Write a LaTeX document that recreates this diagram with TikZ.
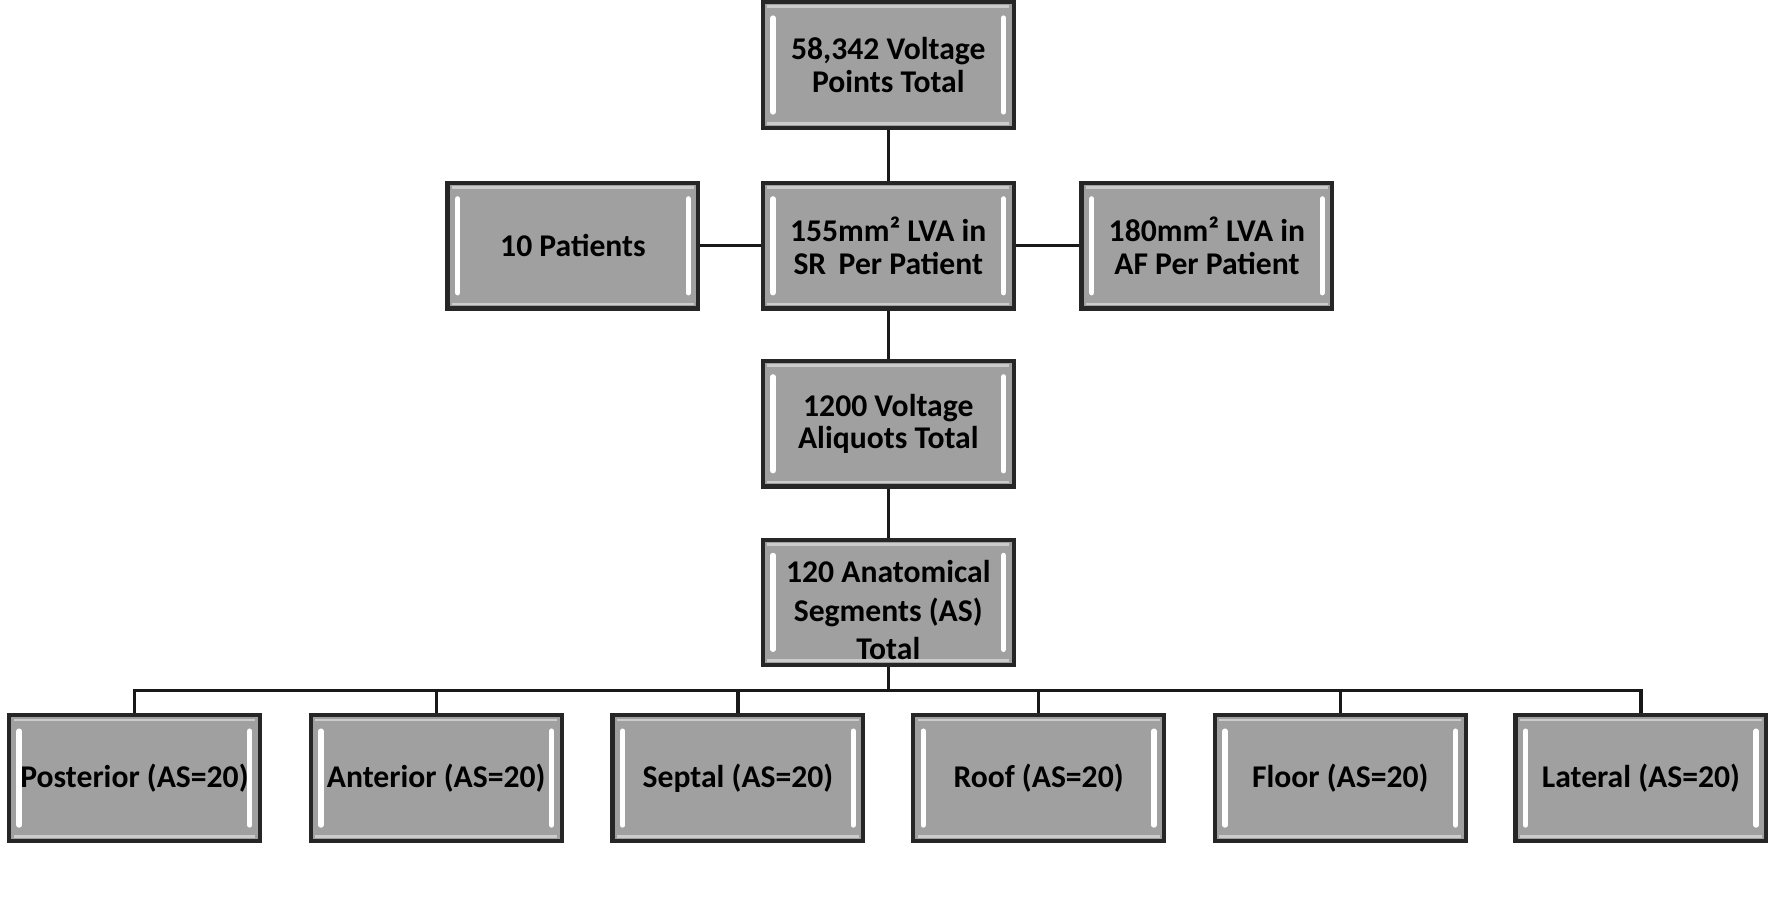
\documentclass[tikz,border=0pt]{standalone}
\usepackage{fontspec}
\setmainfont{Carlito}
\begin{document}
\begin{tikzpicture}[x=0.5pt,y=-0.5pt,
  box/.style={draw=black!85,line width=1.8pt,fill=boxgray,
    minimum width=111pt,minimum height=55.5pt,inner sep=0pt,
    font=\fontsize{14}{14.5}\selectfont\bfseries,align=center,text=black,
    path picture={
      \draw[line width=1.2pt,draw=black!20]
        ([xshift=2pt,yshift=-2pt]path picture bounding box.north west) --
        ([xshift=-2pt,yshift=-2pt]path picture bounding box.north east);
      \draw[line width=1.2pt,draw=black!20]
        ([xshift=2pt,yshift=2pt]path picture bounding box.south west) --
        ([xshift=-2pt,yshift=2pt]path picture bounding box.south east);
      \draw[line width=2.4pt,white,line cap=round]
        ([xshift=4.5pt,yshift=-7pt]path picture bounding box.north west) --
        ([xshift=4.5pt,yshift=7pt]path picture bounding box.south west);
      \draw[line width=2.4pt,white,line cap=round]
        ([xshift=-4.5pt,yshift=-7pt]path picture bounding box.north east) --
        ([xshift=-4.5pt,yshift=7pt]path picture bounding box.south east);
    }},
  link/.style={draw=black!90,line width=1.4pt}]
\definecolor{boxgray}{HTML}{A0A0A0}
\useasboundingbox (0,0) rectangle (1568,811);
% top column
\node[box] (top) at (786,57.5) {58,342 Voltage\\Points Total};
\node[box] (sr) at (786,217.5) {155mm² LVA in\\SR\, Per Patient};
\node[box] (pat) at (507,217.5) {10 Patients};
\node[box] (af) at (1068,217.5) {180mm² LVA in\\AF Per Patient};
\node[box] (ali) at (786,375) {1200 Voltage\\Aliquots Total};
\node[box] (seg) at (786,533) {};
\node[font=\fontsize{14}{17}\selectfont\bfseries,align=center,text=black] (segt) at (786,540) {120 Anatomical\\Segments (AS)\\Total};
% bottom row
\node[box] (post) at (119,688.5) {Posterior (AS=20)};
\node[box] (ant) at (386,688.5) {Anterior (AS=20)};
\node[box] (sep) at (653,688.5) {Septal (AS=20)};
\node[box] (roof) at (919,688.5) {Roof (AS=20)};
\node[box] (floor) at (1186,688.5) {Floor (AS=20)};
\node[box] (lat) at (1452,688.5) {Lateral (AS=20)};
\coordinate (bus) at (786,611);
% connectors
\draw[link] (top.south) -- (sr.north);
\draw[link] (pat.east) -- (sr.west);
\draw[link] (sr.east) -- (af.west);
\draw[link] (sr.south) -- (ali.north);
\draw[link] (ali.south) -- (seg.north);
\draw[link] (seg.south) -- (bus);
\foreach \n in {post,ant,sep,roof,floor,lat}
  \draw[link] (bus) -| (\n.north);
\end{tikzpicture}
\end{document}
